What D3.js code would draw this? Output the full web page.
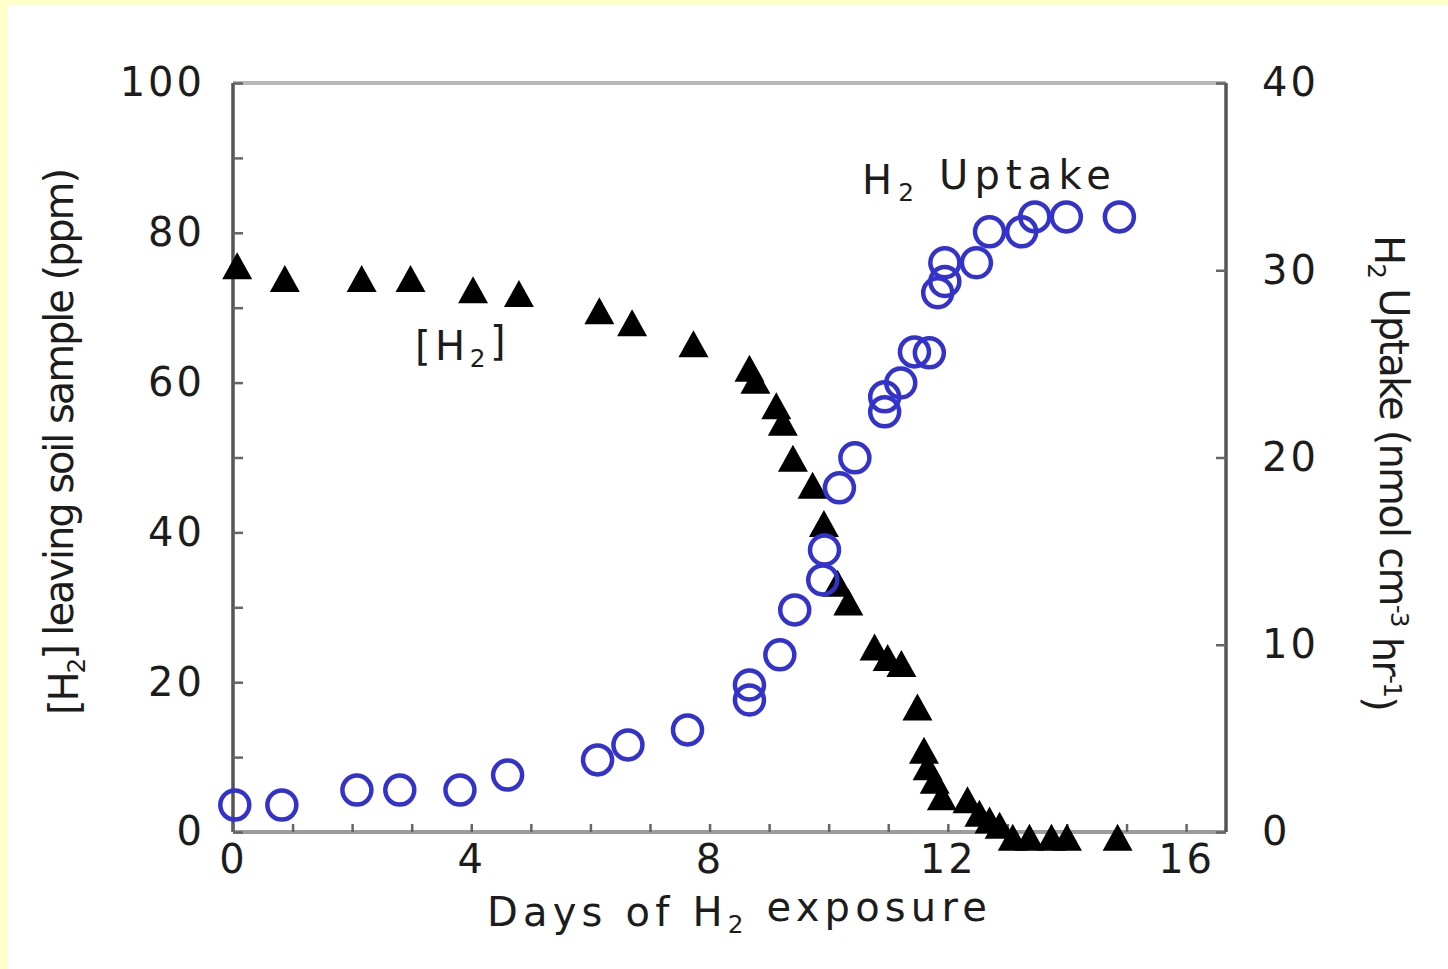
<!DOCTYPE html>
<html>
<head>
<meta charset="utf-8">
<style>
  html, body { margin: 0; padding: 0; background: #ffffcc; }
  svg { display: block; }
  text { font-family: "DejaVu Sans", "Liberation Sans", Arial, sans-serif; fill: #1c1c1c; }
</style>
</head>
<body>
<svg id="chart" width="1448" height="969"></svg>

<script src="https://cdn.jsdelivr.net/npm/d3@7"></script>
<script type="text/javascript">

// [H2] leaving soil sample (ppm), filled triangles, left axis
var h2Days = [0.07, 0.87, 2.16, 2.98, 4.03, 4.8, 6.15, 6.7, 7.73, 8.67, 8.77, 9.12, 9.23, 9.4,
              9.73, 9.92, 10.15, 10.33, 10.77, 10.99, 11.22, 11.49, 11.6, 11.66, 11.78, 11.9,
              12.33, 12.53, 12.7, 12.87, 13.09, 13.37, 13.74, 14.0, 14.85];
var h2Ppm  = [75.6, 73.9, 73.9, 73.9, 72.4, 71.9, 69.6, 68.0, 65.2, 61.9, 60.3, 56.9, 54.7, 49.9,
              46.3, 41.2, 33.2, 30.7, 24.7, 23.3, 22.5, 16.7, 10.9, 8.7, 6.9, 4.7,
              4.3, 2.5, 1.6, 0.9, -0.7, -0.7, -0.7, -0.7, -0.7];

// H2 uptake (nmol cm-3 hr-1), open circles, right axis
var upDays   = [0.03, 0.82, 2.08, 2.8, 3.81, 4.61, 6.12, 6.63, 7.63, 8.67, 8.67, 9.18, 9.43, 9.9,
                9.93, 10.18, 10.44, 10.94, 10.94, 11.21, 11.44, 11.69, 11.83, 11.95, 11.95, 12.48,
                12.7, 13.24, 13.46, 13.99, 14.88];
var upValues = [1.44, 1.44, 2.24, 2.24, 2.24, 3.04, 3.85, 4.65, 5.45, 7.05, 7.85, 9.46, 11.86, 13.46,
                15.06, 18.38, 19.98, 22.44, 23.24, 23.98, 25.64, 25.59, 28.8, 29.4, 30.4, 30.4,
                32.05, 32.05, 32.85, 32.85, 32.85];

var xTicks      = [0, 4, 8, 12, 16];
var leftTicks   = [0, 20, 40, 60, 80, 100];
var rightTicks  = [0, 10, 20, 30, 40];

var svg = d3.select("#chart");

// white sheet, yellow band shows only on left and top
svg.append("rect")
    .attr("x", 8).attr("y", 5)
    .attr("width", 1440).attr("height", 964)
    .attr("fill", "#ffffff");

var plot = {left: 233, right: 1226, top: 83, bottom: 832};

var x = d3.scaleLinear().domain([0, 16.67]).range([plot.left, plot.right]);
var yL = d3.scaleLinear().domain([0, 100]).range([plot.bottom, plot.top]);
var yR = d3.scaleLinear().domain([0, 40]).range([plot.bottom, plot.top]);

var tickFont = 40;

function styleAxis(g) {
    g.selectAll(".domain").remove();
    g.selectAll(".tick line").attr("stroke", "#666").attr("stroke-width", 2.5);
    g.selectAll(".tick text")
        .attr("font-size", tickFont)
        .attr("letter-spacing", "3px")
        .attr("fill", "#1c1c1c");
}

// frame lines
svg.append("line").attr("x1", plot.left).attr("x2", plot.right).attr("y1", plot.top).attr("y2", plot.top)
    .attr("stroke", "#b8b8b8").attr("stroke-width", 4);
svg.append("line").attr("x1", plot.left).attr("x2", plot.right).attr("y1", plot.bottom).attr("y2", plot.bottom)
    .attr("stroke", "#9c9c9c").attr("stroke-width", 4);
svg.append("line").attr("x1", plot.left).attr("x2", plot.left).attr("y1", plot.top).attr("y2", plot.bottom)
    .attr("stroke", "#555").attr("stroke-width", 3.5);
svg.append("line").attr("x1", plot.right).attr("x2", plot.right).attr("y1", plot.top).attr("y2", plot.bottom)
    .attr("stroke", "#555").attr("stroke-width", 3.5);

// bottom axis: minor ticks every day, labels every 4
svg.append("g")
    .attr("transform", "translate(0," + plot.bottom + ")")
    .call(d3.axisBottom(x).tickValues(d3.range(0, 17)).tickSize(-8).tickPadding(13)
        .tickFormat(function(d) { return xTicks.indexOf(d) >= 0 ? d : ""; }))
    .call(styleAxis);

// left axis
svg.append("g")
    .attr("transform", "translate(" + plot.left + ",0)")
    .call(d3.axisLeft(yL).tickValues(d3.range(0, 101, 10)).tickSize(-10).tickPadding(28)
        .tickFormat(function(d) { return leftTicks.indexOf(d) >= 0 ? d : ""; }))
    .call(styleAxis);

// right axis
svg.append("g")
    .attr("transform", "translate(" + plot.right + ",0)")
    .call(d3.axisRight(yR).tickValues(rightTicks).tickSize(-10).tickPadding(36))
    .call(styleAxis);

var triPath = "M0,-13.5L15,13.5L-15,13.5Z";

svg.append("g").selectAll("path")
    .data(h2Days.map(function(d, i) { return {day: d, ppm: h2Ppm[i]}; }))
    .enter().append("path")
    .attr("d", triPath)
    .attr("transform", function(d) { return "translate(" + x(d.day) + "," + yL(d.ppm) + ")"; })
    .attr("fill", "#000");

svg.append("g").selectAll("circle")
    .data(upDays.map(function(d, i) { return {day: d, val: upValues[i]}; }))
    .enter().append("circle")
    .attr("cx", function(d) { return x(d.day); })
    .attr("cy", function(d) { return yR(d.val); })
    .attr("r", 14.5)
    .attr("fill", "none")
    .attr("stroke", "#3333cc")
    .attr("stroke-width", 4.5);

// stretch a text's letter spacing so it covers a given width
function fitText(t, width) {
    var w = t.node().getComputedTextLength();
    var n = t.text().length;
    t.attr("letter-spacing", ((width - w) / n) + "px");
}

function addSub(t, main, sub, rest) {
    t.append("tspan").text(main);
    t.append("tspan").text(sub).attr("font-size", "0.62em").attr("dy", "0.3em");
    t.append("tspan").text(rest).attr("dy", "-0.3em");
}

// x title
var xt = svg.append("text")
    .attr("x", 487).attr("y", 926)
    .attr("font-size", 40);
addSub(xt, "Days of H", "2", " exposure");
fitText(xt, 505);

// left title
var lt = svg.append("text")
    .attr("transform", "translate(78,715) rotate(-90)")
    .attr("font-size", 40);
addSub(lt, "[H", "2", "] leaving soil sample (ppm)");
fitText(lt, 545);

// right title
var rt = svg.append("text")
    .attr("transform", "translate(1375,235) rotate(90)")
    .attr("font-size", 40);
rt.append("tspan").text("H");
rt.append("tspan").text("2").attr("font-size", "0.62em").attr("dy", "0.3em");
rt.append("tspan").text(" Uptake (nmol cm").attr("dy", "-0.3em");
rt.append("tspan").text("-3").attr("font-size", "0.62em").attr("dy", "-0.45em");
rt.append("tspan").text(" hr").attr("dy", "0.45em");
rt.append("tspan").text("-1").attr("font-size", "0.62em").attr("dy", "-0.45em");
rt.append("tspan").text(")").attr("dy", "0.45em");
fitText(rt, 475);

// in-plot labels
var a1 = svg.append("text")
    .attr("x", 415).attr("y", 360)
    .attr("font-size", 40);
addSub(a1, "[H", "2", "]");
fitText(a1, 95);

var a2 = svg.append("text")
    .attr("x", 862).attr("y", 194)
    .attr("font-size", 40);
addSub(a2, "H", "2", " Uptake");
fitText(a2, 255);

</script>
</body>
</html>
